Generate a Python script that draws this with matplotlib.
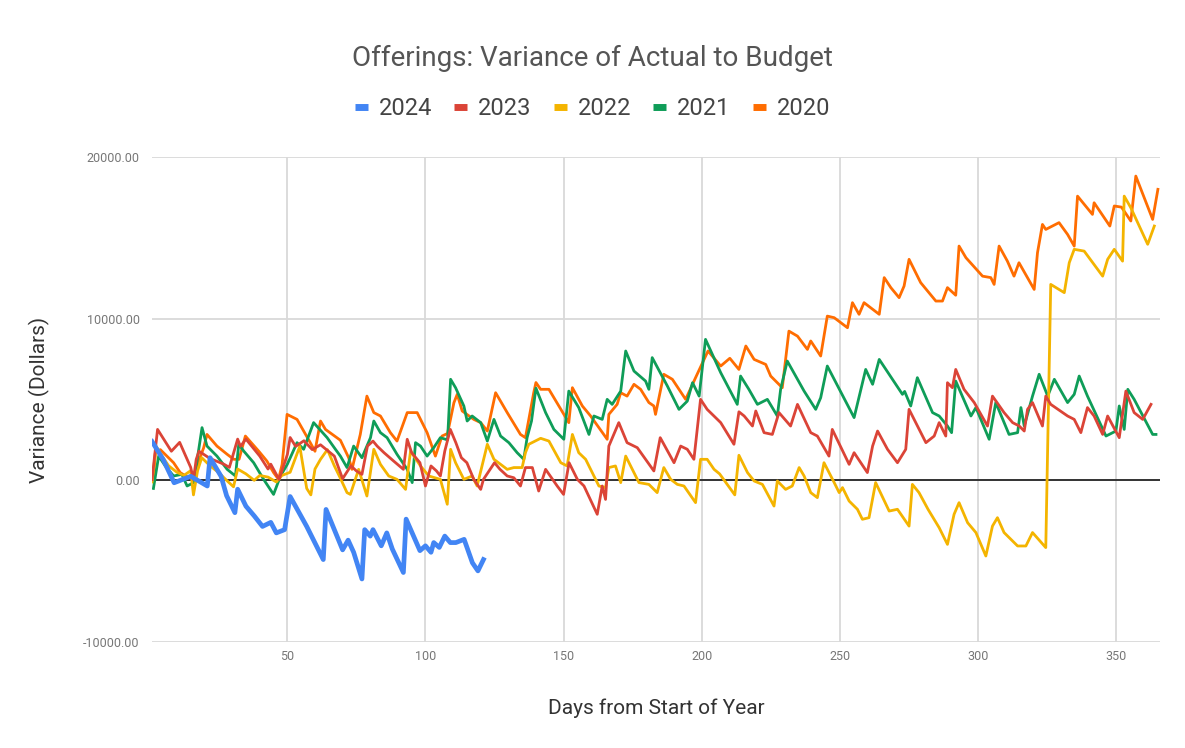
import matplotlib
matplotlib.use("Agg")
import matplotlib.pyplot as plt
from matplotlib.lines import Line2D

plt.rcParams['font.family'] = ['Roboto', 'DejaVu Sans']

# ---- data: (day of year, variance in dollars) ----
days_2024 = [1, 5, 9, 12, 15, 17, 21, 22, 26, 28, 31, 32, 35, 38, 41, 44, 46, 49, 51,
             57, 63, 64, 70, 72, 74, 77, 78, 80, 81, 84, 86, 88, 92, 93, 98, 100, 102,
             103, 105, 107, 109, 111, 114, 117, 119, 121]
vals_2024 = [2400, 1300, -150, 50, 250, 50, -350, 1400, 250, -950, -2000, -550, -1600,
             -2200, -2850, -2600, -3250, -3050, -1000, -2850, -4900, -1800, -4300, -3700,
             -4450, -6100, -3050, -3450, -3050, -4050, -3250, -4250, -5700, -2400, -4350,
             -4050, -4450, -3850, -4150, -3450, -3850, -3850, -3650, -5100, -5600, -4900]

days_2023 = [1, 3, 8, 11, 15, 16, 17, 18, 22, 27, 29, 32, 33, 35, 40, 43, 44, 47, 50, 51,
             53, 56, 59, 62, 67, 70, 73, 75, 77, 79, 81, 82.5, 85, 88.5, 92, 93.4, 95, 98,
             100, 102, 104, 105.4, 107, 109, 111, 113, 115, 117.5, 120, 121, 125, 127,
             129.6, 132, 134.4, 136.2, 138.7, 141, 143.5, 147.7, 150, 152, 155, 157.4,
             162.2, 164, 165.2, 166.4, 170, 173, 176.7, 182.7, 185, 190, 192.4, 194.8,
             197.2, 199.6, 202, 206.9, 211.7, 213.5, 215.4, 218.4, 219.6, 222.6, 225.6,
             228, 232.2, 234.7, 239.5, 241.9, 246.1, 247.3, 253.4, 255.2, 260, 261.9,
             263.7, 267.3, 270.9, 273.9, 275.1, 281.2, 284.2, 286, 288.4, 289, 290.8, 292,
             295, 298.7, 303.5, 305.3, 309.5, 312.6, 315, 316.8, 318, 319.8, 323.4, 324.6,
             326.4, 332.5, 334.9, 337.3, 339.7, 342.1, 345.2, 347, 351.2, 353.6, 356.6,
             359.7, 362.7]
vals_2023 = [50, 3150, 1800, 2350, 800, 50, 1300, 1800, 1350, 1000, 800, 2550, 2100, 2550,
             1500, 700, 1000, 50, 1600, 2650, 2100, 2450, 1900, 2200, 1500, 100, 900, 580,
             370, 2120, 2430, 2120, 1710, 1190, 680, 2540, 1710, 1090, -350, 890, 580, 270,
             1810, 3150, 2330, 1400, 1090, 60, -560, 60, 1090, 680, 270, 160, -350, 790,
             790, -660, 680, -350, -870, 1090, 60, -350, -2100, -350, -1180, 2120, 3570,
             2330, 2020, 580, 2640, 1090, 2120, 1920, 1300, 5010, 4390, 3570, 2230, 4240,
             3980, 3360, 4290, 2950, 2840, 4190, 3360, 4700, 2950, 2740, 1500, 3150, 990,
             1710, 480, 2120, 3050, 1920, 1090, 1920, 4390, 2330, 2740, 3570, 2740, 6040,
             5730, 6860, 5630, 4810, 3360, 5210, 4190, 3570, 3360, 3050, 4390, 4810, 3360,
             5210, 4700, 3980, 3770, 2950, 4500, 3980, 2840, 3980, 2640, 5520, 4190, 3770,
             4700]

days_2022 = [1, 2.5, 4.6, 7, 10, 12.5, 15, 16, 17.5, 19, 22, 25, 28, 30.5, 32, 35, 38, 40,
             43, 46, 48, 51, 54.5, 57, 58.5, 60, 62, 64.5, 67, 69, 71.6, 72.8, 75.8, 78.8,
             81.3, 83.7, 86.7, 89.7, 92.8, 94.6, 98.2, 101.2, 105.4, 107.9, 109.1, 110.9,
             113.9, 116.9, 118.7, 122.4, 124.8, 127.2, 129.6, 132, 135, 136.2, 137.4,
             141.7, 144.7, 149, 151.3, 153.2, 155.5, 158, 162.8, 165.2, 166.4, 168.8,
             170.7, 172.5, 175.5, 177.3, 180.9, 183.9, 186.3, 188.8, 191.2, 193.6, 197.8,
             199.6, 202, 204.5, 206.5, 212, 213.5, 216.6, 219, 222, 226.2, 227.4, 230.4,
             232.8, 235.3, 237.1, 239.5, 241.9, 244.3, 248, 249.8, 251, 253.4, 256.4,
             258.2, 260.6, 263, 267.9, 270.9, 275.1, 276.3, 278.7, 282, 286, 289, 291.4,
             293.2, 296.3, 299.3, 302.9, 305.3, 307.1, 309.5, 314.4, 317.4, 319.8, 324.6,
             326.4, 331.3, 333.1, 334.9, 338.5, 345.2, 347, 349.4, 352.4, 353, 355.4,
             361.5, 363.9]
vals_2022 = [-100, 2100, 1500, 900, 500, 300, 600, -900, 600, 1400, 900, 500, 0, -400, 700,
             400, 0, 300, 200, -100, 300, 500, 2100, -500, -900, 700, 1300, 1900, 900, 200,
             -760, -870, 680, -970, 1920, 990, 270, 60, -560, 1810, 890, 270, 60, -1480,
             1920, 1090, 60, 270, -350, 2230, 1300, 990, 680, 790, 790, 1710, 2230, 2600,
             2430, 1090, 890, 2840, 1710, 1300, -350, -450, 790, 890, -140, 1500, 480,
             -140, -250, -760, 790, 60, -250, -350, -1380, 1300, 1300, 680, 400, -900, 1550,
             480, -40, -250, -1590, -40, -560, -350, 790, 270, -760, -1070, 1090, -140,
             -760, -450, -1280, -1790, -2410, -2310, -140, -1900, -1790, -2830, -250, -760,
             -1800, -2930, -3960, -2100, -1380, -2620, -3230, -4680, -2830, -2310, -3230,
             -4060, -4060, -3230, -4160, 12120, 11610, 13460, 14290, 14180, 12630, 13670,
             14290, 13560, 17580, 16860, 14600, 15730]

days_2021 = [1.5, 3.4, 5.8, 8.8, 11.8, 13.7, 16.1, 19.1, 20.9, 24.5, 28.2, 31.2, 32.4,
             34.2, 37.8, 41.4, 45, 47.5, 50, 53.5, 55.9, 59.5, 64.4, 67.4, 69.2, 71.6, 74,
             77, 80.1, 81.3, 83.7, 86.1, 89.7, 93.4, 95.2, 96.4, 98.2, 100.6, 103, 105.4,
             108, 109.1, 110.9, 113.9, 115.1, 116.9, 120, 122.4, 124.8, 127.2, 130.2,
             133.2, 135.6, 136.8, 138.4, 140, 143.5, 146.5, 150.1, 151.9, 155.5, 159.2,
             161, 164, 165.8, 167.6, 170.7, 172.5, 175.5, 179.7, 180.9, 182.1, 187.6,
             191.8, 194.8, 196.7, 199.1, 201.4, 206.9, 212.9, 214.1, 217.1, 220.2, 223.8,
             227.4, 228.6, 231, 237.1, 241.3, 243.1, 245.5, 255.2, 259.4, 261.9, 264.3,
             272.7, 273.5, 275.7, 278.1, 283.6, 286, 289, 290.5, 292, 297.5, 299.3, 304.1,
             306.5, 311.3, 314.4, 315.6, 316.8, 319.8, 322.2, 325.3, 327.7, 332.5, 334.9,
             336.7, 339.7, 346.4, 350, 351.2, 353, 354.3, 356.6, 363.3, 364.5]
vals_2021 = [-500, 1500, 890, 270, 370, -350, -140, 3260, 2120, 1500, 680, 270, 2230, 1810,
             1090, 60, -870, 270, 1000, 2330, 1920, 3570, 2640, 1920, 1500, 790, 2120,
             1400, 2640, 3670, 2950, 2640, 1610, 680, -140, 2330, 2120, 1500, 2020, 2640,
             2500, 6250, 5730, 4600, 3670, 3980, 3570, 2430, 3770, 2740, 2330, 1710, 1300,
             2640, 3670, 5700, 4190, 3150, 2540, 5520, 4500, 2840, 3980, 3770, 5010, 4700,
             5520, 8000, 6760, 6140, 5630, 7590, 5830, 4390, 4900, 6040, 5210, 8720, 6660,
             4700, 6450, 5630, 4700, 5010, 3980, 5630, 7380, 5520, 4390, 5110, 7070, 3880,
             6860, 5940, 7480, 5320, 5500, 4600, 6350, 4190, 3980, 3360, 2950, 6140, 3980,
             4500, 2540, 4810, 2840, 2950, 4500, 3360, 5210, 6560, 5210, 6250, 4810, 5320,
             6450, 5210, 2740, 3050, 4600, 3150, 5630, 5010, 2840, 2840]

days_2020 = [1.5, 2.2, 4, 8.8, 11.2, 14.2, 16, 19.7, 20.9, 24.5, 28.2, 30.6, 32.5, 34.8,
             39.6, 42.6, 45, 46.8, 48.1, 49.9, 53.5, 58.3, 60, 62, 63.8, 69.2, 72.2, 73.4,
             76.4, 78.8, 81.3, 83.7, 87.3, 89.7, 93.4, 97, 100.6, 103.6, 106, 108, 110.3,
             111.5, 113.3, 117.5, 120, 122.4, 125.4, 129.6, 134.4, 136.2, 139.2, 140,
             141.7, 144.7, 151.9, 153.2, 156.8, 159.8, 165.8, 166.4, 169.4, 170.7, 173,
             175.5, 177.9, 180.9, 182.7, 183.3, 186.3, 189.4, 194.2, 197.8, 202.3, 206.9,
             210.2, 213.5, 216, 219, 223.2, 225, 229.2, 231.6, 234.7, 238.3, 239.5, 243.1,
             245.5, 248, 250.4, 252.8, 254.6, 257, 258.8, 264.3, 266.1, 268.5, 271.5,
             273.3, 275.1, 279.3, 284.8, 287.2, 289, 292, 293.2, 295.7, 301.7, 304.7,
             305.9, 307.7, 310.7, 313.1, 314.9, 320.4, 321.6, 323.4, 324.6, 329.4, 332.5,
             334.9, 336.1, 341.5, 342.1, 347.8, 349.4, 352, 355.4, 357.2, 363.3, 365.2]
vals_2020 = [60, 1710, 1900, 1090, 480, 160, 300, 2020, 2840, 2120, 1610, 1300, 1300, 2740,
             1810, 1190, 480, 60, 990, 4080, 3770, 2330, 1800, 3670, 3150, 2480, 1400, 680,
             2840, 5210, 4190, 3980, 2950, 2430, 4190, 4190, 2950, 1500, 2740, 2900, 4800,
             5320, 4290, 3770, 3570, 3050, 5420, 4190, 2840, 2640, 5420, 6050, 5630, 5630,
             3570, 5730, 4600, 3980, 2540, 4080, 4700, 5420, 5210, 5940, 5630, 4810, 4600,
             4080, 6560, 6250, 5010, 6350, 8000, 7070, 7550, 6860, 8310, 7480, 7170, 6450,
             5730, 9230, 8920, 8100, 8620, 7690, 10160, 10060, 9750, 9440, 10990, 10270,
             10990, 10270, 12540, 11920, 11300, 12020, 13670, 12230, 11090, 11090, 11920,
             11450, 14490, 13770, 12630, 12540, 12120, 14490, 13560, 12630, 13460, 11810,
             14080, 15830, 15520, 15940, 15210, 14490, 17580, 16450, 17170, 15730, 16970,
             16900, 16040, 18820, 16140, 18000]

years = ['2024', '2023', '2022', '2021', '2020']
colors = ['#4285F4', '#DB4437', '#F4B400', '#0F9D58', '#FF6D01']
widths = [3.4, 2.0, 2.0, 2.0, 2.0]
series = [(days_2024, vals_2024), (days_2023, vals_2023), (days_2022, vals_2022),
          (days_2021, vals_2021), (days_2020, vals_2020)]

fig = plt.figure(figsize=(11.85, 7.48), dpi=100)
ax = fig.add_axes([0.1283, 0.1417, 0.8507, 0.6484])

# draw oldest first so 2024 sits on top
for (d, v), c, w in list(zip(series, colors, widths))[::-1]:
    ax.plot(d, v, color=c, linewidth=w, solid_joinstyle='round', zorder=3)

ax.axhline(0, color='#333333', linewidth=1.4, zorder=2)

ax.set_xlim(1, 366)
ax.set_ylim(-10000, 20000)
ax.set_xticks([50, 100, 150, 200, 250, 300, 350])
ax.set_yticks([-10000, 0, 10000, 20000])
ax.set_yticklabels(['-10000.00', '0.00', '10000.00', '20000.00'])
ax.grid(True, color='#d9d9d9', linewidth=1.3, zorder=1)
ax.tick_params(length=0, labelsize=9, labelcolor='#777777', pad=9)
ax.tick_params(axis='x', pad=6)
for s in ax.spines.values():
    s.set_visible(False)

ax.set_xlabel('Days from Start of Year', fontsize=15, color='#333333', labelpad=25)
ax.set_ylabel('Variance (Dollars)', fontsize=15, color='#333333', labelpad=24)

fig.text(0.5, 0.922, 'Offerings: Variance of Actual to Budget', ha='center', va='center',
         fontsize=20, color='#555555')

handles = [Line2D([], [], color=c, linewidth=5, solid_capstyle='butt') for c in colors]
fig.legend(handles, years, loc='center', bbox_to_anchor=(0.5, 0.855), ncol=5,
           frameon=False, handlelength=0.55, handletextpad=0.45, columnspacing=0.95,
           prop={'size': 17}, labelcolor='#444444')

fig.savefig('out.png', dpi=100)
